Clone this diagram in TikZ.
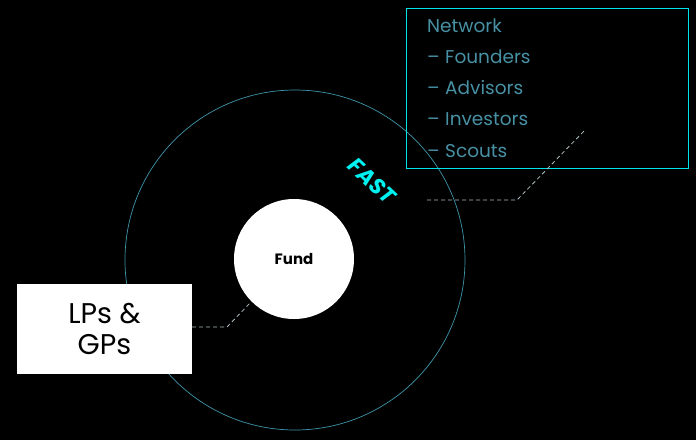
\documentclass[tikz,border=0pt]{standalone}
\usepackage{fontspec}
\setmainfont{Poppins}
\usepackage{xcolor}
\usetikzlibrary{positioning}
\definecolor{ringteal}{RGB}{62,150,170}
\definecolor{textteal}{RGB}{72,145,165}
\definecolor{boxcyan}{RGB}{0,228,232}
\definecolor{fastcyan}{RGB}{0,240,240}
\definecolor{linkgray}{RGB}{175,190,195}
\tikzset{
  item/.style={text=textteal,font=\fontsize{18.5}{20}\selectfont,anchor=base west,inner sep=0pt},
  link/.style={linkgray,dashed,dash pattern=on 4pt off 3pt,line width=0.8pt},
}
\begin{document}
\begin{tikzpicture}[x=1pt,y=-1pt]
\fill[black](0,0)rectangle(696,440);
\useasboundingbox(0,0)rectangle(696,440);
% outer ring and fund
\draw[ringteal,line width=0.7pt](295,260)circle[radius=170];
\node[circle,fill=white,minimum size=120pt,inner sep=0pt,font=\fontsize{15}{17}\selectfont\bfseries](fund)at(294,259){Fund};
\node[fill=white,minimum width=175pt,minimum height=90pt,inner sep=0pt,align=center,
  font=\fontsize{28.5}{31}\selectfont\addfontfeatures{Weight=Light}](lps)at(104.5,329){LPs \&\\GPs};
% network box
\draw[boxcyan,line width=0.8pt](406,8)rectangle(688,168);
\node[item](net)at(427,32){Network};
\foreach \t [count=\i] in {Founders,Advisors,Investors,Scouts}{
  \node[item](d\i)at(427,32+31.3*\i){--};
  \node[item](n\i)at(445,32+31.3*\i){\t};
}
\node[text=fastcyan,rotate=-43,inner sep=0pt,font=\fontsize{22}{24}\selectfont\bfseries\itshape](fast)at(372,181){FAST};
% dashed connectors
\coordinate(netfree)at(427,200);
\coordinate(netend)at(585,130);
\draw[link](netfree)--(517,200)--(netend);
\coordinate(lpsend)at(lps.east|-0,327);
\draw[link](lpsend)--(227,327)--(fund.225);
\end{tikzpicture}
\end{document}
